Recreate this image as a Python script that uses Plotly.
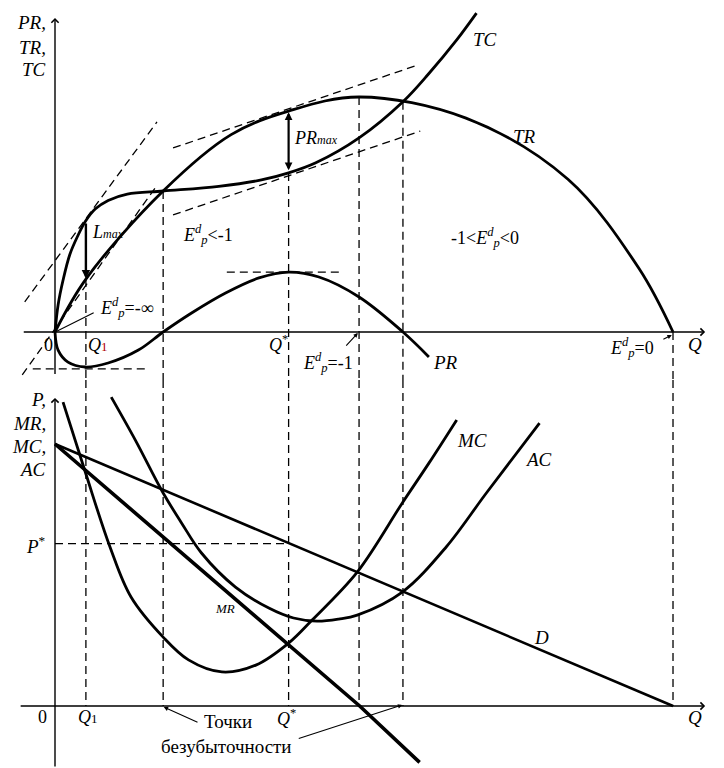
import plotly.graph_objects as go

# ---------------- data ----------------
# Upper panel: Q vs PR, TR, TC
tr_q = [0, 5, 17.5, 28.5, 37.8, 49.2, 66.5, 83, 94.5, 100]
tr_v = [0, 22.5, 60, 84, 94, 100, 91, 65, 27, 0]
tc_q = [0, 0.5, 1.3, 2.4, 3.7, 4.9, 6.5, 8.6, 11.7, 17.5, 26.5, 33.4, 37.8, 42.2, 49.2, 56.3, 60.5, 65, 68.2]
tc_v = [0, 11.5, 22, 33, 41, 47, 52.3, 56, 58.7, 60, 62, 64.7, 67.7, 72, 82.6, 98, 110, 124.3, 135.7]
pr_q = [0, 0.5, 2.1, 4.9, 8.6, 13.5, 17.5, 22.1, 27.6, 33, 37.8, 42.7, 49.2, 56.3, 60.5]
pr_v = [0, -7.7, -12.8, -14.9, -13.2, -7.7, 0, 8.1, 16.6, 23, 25.5, 23.4, 14.9, 0, -10.6]

# tangent / guide lines (upper panel): [q0, q1], [v0, v1]
tan_tc_q1 = ([-4.9, 16.5], [12.8, 89.4])
tan_tr_0 = ([-5.3, 16.2], [-18.3, 61.3])
tan_tr_qs = ([19.1, 58.7], [78.3, 113.6])
tan_tc_qs = ([19.1, 59.1], [49.8, 85.5])
pr_max_line = ([27.8, 46.5], [25.5, 25.5])
pr_min_line = ([-3.6, 14.9], [-15.7, -15.7])

# key quantities
q_marks = [5.0, 17.5, 37.8, 49.2, 56.3, 100]
q_marks_top = [22.5, 60, 67.7, 100, 98, 0]

# Lower panel: Q vs P, MR, MC, AC
d_q = [0, 100]
d_v = [100, 0]
mr_q = [0, 17.5, 37.8, 49.3, 59]
mr_v = [100, 64.5, 23.3, 0, -21.5]
mc_q = [1.3, 4.9, 8.9, 12.3, 17.5, 21.6, 27, 32.5, 37.8, 41.6, 48.9, 56.2, 60.5, 65]
mc_v = [116, 89.3, 60.7, 41.6, 26.3, 17.6, 13, 15.6, 24, 32.8, 51.1, 77.5, 92.7, 109.2]
ac_q = [9.1, 13, 17.5, 20.5, 23.7, 29.2, 34.6, 38.6, 42.4, 45.9, 48.9, 56.2, 63.3, 69.8, 78.4]
ac_v = [117.9, 101.5, 81.3, 69.8, 58.4, 45.4, 37.4, 33.6, 32.4, 33.2, 34.7, 43.5, 60.7, 81.3, 108]
p_star = 62
q_star = 37.8

# ---------------- figure ----------------
FONT = "Liberation Serif"
# page body has an 8px margin: figure is 716x760 placed at (8, 8)
X_RANGE = [-7.605, 108.25]
Y1_RANGE = [-20.43, 137.87]
Y2_RANGE = [-23.66, 124.43]
SPLIT = 1 - 372 / 760

fig = go.Figure()

def curve(q, v, panel, width=2.8, shape="spline", dash=None):
    xa, ya = ("x", "y") if panel == 1 else ("x2", "y2")
    fig.add_trace(go.Scatter(
        x=q, y=v, mode="lines", xaxis=xa, yaxis=ya, hoverinfo="skip",
        line=dict(color="black", width=width, shape=shape, smoothing=1.0, dash=dash),
        showlegend=False))

DASH = "8px,5px"
DW = 1.3

# upper panel curves
curve(tr_q, tr_v, 1)
curve(tc_q, tc_v, 1)
curve(pr_q, pr_v, 1)
for ln in (tan_tc_q1, tan_tr_0, tan_tr_qs, tan_tc_qs, pr_max_line, pr_min_line):
    curve(ln[0], ln[1], 1, width=DW, shape="linear", dash=DASH)

# vertical guides (both panels)
vx1, vy1, vx2, vy2 = [], [], [], []
for q, top in zip(q_marks, q_marks_top):
    vx1 += [q, q, None]
    vy1 += [top, Y1_RANGE[0], None]
    vx2 += [q, q, None]
    vy2 += [Y2_RANGE[1], 0, None]
curve(vx1, vy1, 1, width=DW, shape="linear", dash=DASH)
curve(vx2, vy2, 2, width=DW, shape="linear", dash=DASH)

# lower panel curves
curve([0, q_star], [p_star, p_star], 2, width=DW, shape="linear", dash=DASH)
curve(d_q, d_v, 2, width=2.6, shape="linear")
curve(mr_q, mr_v, 2, width=3.6, shape="linear")
curve(mc_q, mc_v, 2)
curve(ac_q, ac_v, 2)

ann = []

def arrow(x, y, ax, ay, panel, head=2, width=1.3, size=1.0, side="end"):
    xr, yr = ("x", "y") if panel == 1 else ("x2", "y2")
    ann.append(dict(x=x, y=y, ax=ax, ay=ay, xref=xr, yref=yr, axref=xr, ayref=yr,
                    text="", showarrow=True, arrowhead=head, arrowwidth=width,
                    arrowsize=size, arrowside=side, arrowcolor="black"))

def label(x, y, text, panel, size=18, xanchor="center", color="black"):
    xr, yr = ("x", "y") if panel == 1 else ("x2", "y2")
    ann.append(dict(x=x, y=y, xref=xr, yref=yr, text=text, showarrow=False,
                    xanchor=xanchor, yanchor="middle",
                    font=dict(family=FONT, size=size, color=color)))

# axes
arrow(105.2, 0, -5.3, 0, 1, head=4, width=1.4)
arrow(0, 133.6, 0, -18.5, 1, head=4, width=1.4)
arrow(105.2, 0, -5.8, 0, 2, head=4, width=1.4)
arrow(0, 117.6, 0, Y2_RANGE[0], 2, head=4, width=1.4)

# L_max and PR_max arrows
arrow(5.0, 22.8, 5.0, 46.8, 1, head=2, width=2.4, size=0.7)
arrow(q_star, 93.5, q_star, 68.2, 1, head=2, width=2.2, size=0.7, side="end+start")

# pointers
arrow(0.2, 0.2, 6.5, 8.5, 1, head=0, width=1.1)
arrow(49.0, -0.4, 46.9, -6.4, 1, head=2, width=1.1, size=0.8)
arrow(99.8, -1.3, 98.2, -3.4, 1, head=2, width=1.1, size=0.8)
arrow(17.6, -0.4, 23.3, -6.5, 2, head=2, width=1.1, size=0.8)
arrow(56.2, 0.4, 39.2, -12.6, 2, head=2, width=1.1, size=0.8)

E = "<i>E</i><sup><i>d</i></sup><sub><i>p</i></sub>"

# upper labels
label(-1.1, 131.5, "<i>PR,</i>", 1, size=19, xanchor="right")
label(-1.1, 120.9, "<i>TR,</i>", 1, size=19, xanchor="right")
label(-1.1, 111.5, "<i>TC</i>", 1, size=19, xanchor="right")
label(69.6, 124.3, "<i>TC</i>", 1, size=19)
label(75.9, 83, "<i>TR</i>", 1, size=19)
label(63.2, -12.8, "<i>PR</i>", 1, size=19)
label(24.8, 41.3, E + "&lt;-1", 1)
label(69.6, 40.4, "-1&lt;" + E + "&lt;0", 1)
label(11.7, 10.6, E + "=-∞", 1)
label(-1.0, -5.5, "0", 1)
label(7.0, -5.5, "<i>Q</i><span style='font-size:13px;color:#b00000'>1</span>", 1)
label(36.1, -4.7, "<i>Q</i><sup>*</sup>", 1)
label(44.2, -12.8, E + "=-1", 1)
label(93.4, -6.8, E + "=0", 1)
label(103.6, -5.5, "<i>Q</i>", 1, size=19)
label(5.6, 42.5, "<i>L<span style='font-size:12px'>max</span></i>", 1, xanchor="left")
label(38.4, 82.5, "<i>PR<span style='font-size:12px'>max</span></i>", 1, xanchor="left")

# lower labels
label(-1.1, 116.8, "<i>P,</i>", 2, size=19, xanchor="right")
label(-1.1, 108.0, "<i>MR,</i>", 2, size=19, xanchor="right")
label(-1.1, 98.9, "<i>MC,</i>", 2, size=19, xanchor="right")
label(-1.1, 90.1, "<i>AC</i>", 2, size=19, xanchor="right")
label(-1.1, 61.5, "<i>P</i><sup>*</sup>", 2, size=19, xanchor="right")
label(67.4, 101.5, "<i>MC</i>", 2, size=19)
label(78.2, 93.9, "<i>AC</i>", 2, size=19)
label(78.8, 26, "<i>D</i>", 2, size=19)
label(27.5, 37.4, "<i>MR</i>", 2, size=13)
label(-2.1, -4.2, "0", 2)
label(5.4, -4.2, "<i>Q</i><span style='font-size:13px'>1</span>", 2)
label(37.5, -4.2, "<i>Q</i><sup>*</sup>", 2)
label(103.6, -4.2, "<i>Q</i>", 2, size=19)
label(28.0, -6.1, "Точки", 2, size=19)
label(27.7, -15.3, "безубыточности", 2, size=19)

hidden = dict(visible=False, showgrid=False, zeroline=False, fixedrange=True)
fig.update_layout(
    width=716, height=760, margin=dict(l=0, r=0, t=0, b=0),
    paper_bgcolor="white", plot_bgcolor="white", showlegend=False,
    xaxis=dict(domain=[0, 1], range=X_RANGE, anchor="y", **hidden),
    yaxis=dict(domain=[SPLIT, 1], range=Y1_RANGE, anchor="x", **hidden),
    xaxis2=dict(domain=[0, 1], range=X_RANGE, anchor="y2", **hidden),
    yaxis2=dict(domain=[0, SPLIT], range=Y2_RANGE, anchor="x2", **hidden),
    annotations=ann,
    font=dict(family=FONT),
)
fig.write_html("out.html")
